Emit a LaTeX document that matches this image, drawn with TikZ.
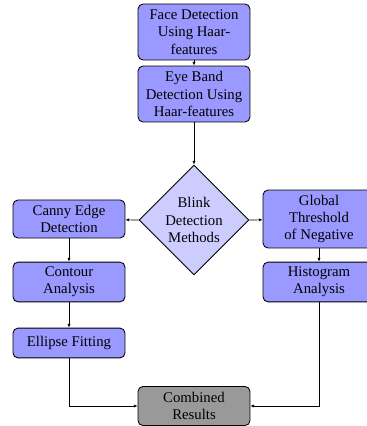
\documentclass[tikz,border=0pt]{standalone}
\usepackage{fontspec}
\setmainfont{Liberation Serif}
\usetikzlibrary{shapes.geometric,arrows.meta}
\begin{document}
\begin{tikzpicture}[x=0.704pt,y=-0.704pt,
  font=\fontsize{10.4}{12.2}\selectfont,
  procbox/.style={draw, line width=0.6pt, rounded corners=3.5pt, fill=blue!40,
    align=center, minimum width=78.8pt, inner sep=2.5pt},
  decbox/.style={diamond, draw, line width=0.6pt, fill=blue!20,
    align=center, minimum width=77.4pt, minimum height=77.4pt, inner sep=0pt},
  resbox/.style={procbox, fill=black!40},
  conn/.style={line width=0.5pt, -{Latex[length=2.6pt,width=2.2pt]}}]
\useasboundingbox (0,0) rectangle (366,426);
\node[procbox, minimum height=39.4pt] (face) at (194,32) {Face Detection\\Using Haar-\\features};
\node[procbox, minimum height=39.4pt] (eye) at (194,94) {Eye Band\\Detection Using\\Haar-features};
\node[decbox] (blink) at (194,220) {Blink\\Detection\\Methods};
\node[procbox, minimum height=26.8pt] (canny) at (69,219) {Canny Edge\\Detection};
\node[procbox, minimum height=40.8pt] (global) at (319,219) {Global\\Threshold\\of Negative};
\node[procbox, minimum height=28pt] (contour) at (69,282) {Contour\\Analysis};
\node[procbox, minimum height=28pt] (hist) at (319,282) {Histogram\\Analysis};
\node[procbox, minimum height=21pt] (ellipse) at (69,343) {Ellipse Fitting};
\node[resbox, minimum height=27.5pt] (comb) at (194,406) {Combined\\Results};
\draw[conn] (face) -- (eye);
\draw[conn] (eye) -- (blink);
\draw[conn] (blink.west) -- (canny);
\draw[conn] (blink.east) -- (global);
\draw[conn] (canny) -- (contour);
\draw[conn] (contour) -- (ellipse);
\draw[conn] (global) -- (hist);
\draw[conn] (ellipse) |- (comb);
\draw[conn] (hist) |- (comb);
\end{tikzpicture}
\end{document}
